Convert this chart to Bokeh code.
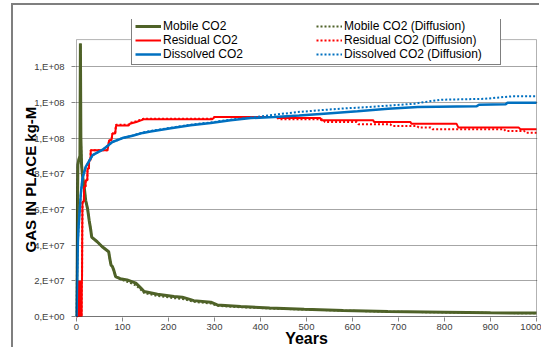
from bokeh.plotting import figure
from bokeh.models import (Range1d, FixedTicker, Legend, LegendItem, BoxAnnotation, Title)
from bokeh.embed import file_html
from bokeh.resources import INLINE

# ---------------- data ----------------
mobile_t = [0, 2, 3, 5, 7.5, 8.5, 9.5, 11, 13, 16.7, 20, 24, 27.5, 31, 33, 45, 56, 70, 72, 75, 78, 81,
            85, 95, 110, 129, 140, 147, 176, 212, 230, 241, 255, 292, 306, 357, 420, 495, 580, 677,
            800, 900, 1000]
mobile_v = [0, 6.0e7, 8.5e7, 8.8e7, 9.0e7, 1.53e8, 1.0e8, 8.5e7, 7.9e7, 7.27e7, 6.5e7, 6.05e7, 5.4e7,
            4.85e7, 4.45e7, 4.19e7, 3.91e7, 3.63e7, 3.3e7, 2.89e7, 2.8e7, 2.6e7, 2.24e7, 2.12e7, 2.05e7,
            1.87e7, 1.59e7, 1.4e7, 1.25e7, 1.12e7, 1.08e7, 1.0e7, 8.9e6, 8.0e6, 6.5e6, 5.6e6, 4.8e6,
            4.1e6, 3.4e6, 2.8e6, 2.4e6, 2.1e6, 1.9e6]

mobile_d_t = [0, 2, 3, 5, 7.5, 8.5, 9.5, 11, 13, 16.7, 20, 24, 27.5, 31, 33, 45, 56, 70, 72, 75, 78, 81,
              85, 95, 110, 129, 140, 147, 176, 212, 230, 241, 255, 292, 306, 357, 420, 495, 580, 677,
              800, 900, 1000]
mobile_d_v = [0, 6.0e7, 8.5e7, 8.8e7, 9.0e7, 1.53e8, 1.0e8, 8.5e7, 7.9e7, 7.27e7, 6.5e7, 6.05e7, 5.4e7,
              4.85e7, 4.45e7, 4.19e7, 3.91e7, 3.63e7, 3.3e7, 2.89e7, 2.8e7, 2.6e7, 2.24e7, 2.1e7, 1.95e7,
              1.75e7, 1.5e7, 1.32e7, 1.15e7, 1.03e7, 0.98e7, 0.92e7, 8.2e6, 7.3e6, 6.0e6, 5.2e6, 4.5e6,
              3.9e6, 3.3e6, 2.7e6, 2.3e6, 2.0e6, 1.8e6]

residual_t = [0, 2, 2.5, 3, 3.5, 4, 4.5, 5, 5.5, 6, 6.5, 7, 7.5, 8, 8.5, 9, 9.5, 10, 10.5, 11, 11.5, 12,
              12.5, 13, 16, 16.5, 19.5, 20, 23.5, 24, 27, 27.5, 30.5, 31, 67.5, 71, 76, 78, 84, 86, 113,
              116, 130, 146, 295, 300, 435, 440, 530, 532, 645, 647, 726, 728, 826, 830, 961, 965, 1000]
residual_v = [0, 0, 2e7, 0, 2e7, 0, 2e7, 0, 2e7, 0, 2e7, 0, 2e7, 0, 2e7, 0, 2e7, 0, 2e7, 0, 2e7, 2e7,
              4.8e7, 6.43e7, 6.43e7, 7.27e7, 7.27e7, 7.64e7, 7.64e7, 8.3e7, 8.3e7, 8.76e7, 8.76e7, 9.32e7,
              9.32e7, 9.88e7, 9.88e7, 1.025e8, 1.025e8, 1.07e8, 1.07e8, 1.08e8, 1.09e8, 1.105e8, 1.105e8,
              1.118e8, 1.118e8, 1.112e8, 1.112e8, 1.10e8, 1.10e8, 1.09e8, 1.09e8, 1.081e8, 1.081e8,
              1.06e8, 1.06e8, 1.05e8, 1.05e8]

residual_d_t = [0, 2, 2.5, 3, 3.5, 4, 4.5, 5, 5.5, 6, 6.5, 7, 7.5, 8, 8.5, 9, 9.5, 10, 10.5, 11, 11.5, 12,
                12.5, 13, 16, 16.5, 19.5, 20, 23.5, 24, 27, 27.5, 30.5, 31, 67.5, 71, 76, 78, 84, 86, 113,
                116, 130, 146, 295, 300, 435, 440, 536, 540, 609, 613, 682, 686, 740, 744, 770, 774, 929,
                933, 973, 977, 1000]
residual_d_v = [0, 0, 2e7, 0, 2e7, 0, 2e7, 0, 2e7, 0, 2e7, 0, 2e7, 0, 2e7, 0, 2e7, 0, 2e7, 0, 2e7, 2e7,
                4.8e7, 6.43e7, 6.43e7, 7.27e7, 7.27e7, 7.64e7, 7.64e7, 8.3e7, 8.3e7, 8.76e7, 8.76e7, 9.32e7,
                9.32e7, 9.88e7, 9.88e7, 1.025e8, 1.025e8, 1.075e8, 1.075e8, 1.085e8, 1.095e8, 1.108e8,
                1.108e8, 1.118e8, 1.118e8, 1.105e8, 1.105e8, 1.09e8, 1.09e8, 1.077e8, 1.077e8, 1.068e8,
                1.068e8, 1.059e8, 1.059e8, 1.05e8, 1.05e8, 1.04e8, 1.04e8, 1.03e8, 1.03e8]

dissolved_t = [0, 1, 2, 3, 4.5, 6, 9.5, 13, 20, 35, 57, 78, 100, 122, 144, 161, 205, 248, 292, 335, 379,
               430, 484, 538, 611, 677, 742, 870, 875, 933, 937, 1000]
dissolved_v = [0, 1.5e7, 3.0e7, 4.2e7, 5.0e7, 5.6e7, 6.9e7, 7.74e7, 8.38e7, 9.04e7, 9.35e7, 9.78e7,
               1.0e8, 1.013e8, 1.029e8, 1.037e8, 1.055e8, 1.072e8, 1.085e8, 1.10e8, 1.112e8, 1.118e8,
               1.127e8, 1.137e8, 1.15e8, 1.165e8, 1.174e8, 1.178e8, 1.187e8, 1.19e8, 1.198e8, 1.198e8]

dissolved_d_t = [0, 1, 2, 3, 4.5, 6, 9.5, 13, 20, 35, 57, 78, 100, 122, 144, 161, 205, 248, 292, 335, 379,
                 430, 481, 524, 575, 633, 684, 735, 756, 793, 887, 946, 1000]
dissolved_d_v = [0, 1.5e7, 3.0e7, 4.2e7, 5.0e7, 5.6e7, 6.9e7, 7.74e7, 8.38e7, 9.04e7, 9.35e7, 9.78e7,
                 1.0e8, 1.015e8, 1.031e8, 1.04e8, 1.058e8, 1.075e8, 1.088e8, 1.103e8, 1.115e8, 1.131e8,
                 1.146e8, 1.155e8, 1.165e8, 1.174e8, 1.183e8, 1.193e8, 1.202e8, 1.215e8, 1.22e8, 1.234e8,
                 1.234e8]

x_ticks = [0, 100, 200, 300, 400, 500, 600, 700, 800, 900, 1000]
x_tick_labels = ["0", "100", "200", "300", "400", "500", "600", "700", "800", "900", "1000"]
y_ticks = [0, 2e7, 4e7, 6e7, 8e7, 1.0e8, 1.2e8, 1.4e8]
y_tick_labels = ["0,E+00", "2,E+07", "4,E+07", "6,E+07", "8,E+07", "1,E+08", "1,E+08", "1,E+08"]

labels = ["Mobile CO2", "Mobile CO2 (Diffusion)", "Residual CO2", "Residual CO2 (Diffusion)",
          "Dissolved CO2", "Dissolved CO2 (Diffusion)"]

# ---------------- figure ----------------
FONT = "Liberation Sans"
PX_PER_YEAR = 0.46
VAL_PER_PX = 5.586e5
PLOT_TOP = 1.552e8

p = figure(width=528, height=344, output_backend="svg", toolbar_location=None,
           x_range=Range1d(-1 / PX_PER_YEAR, 1000 + 1 / PX_PER_YEAR),
           y_range=Range1d(-VAL_PER_PX, 298 * VAL_PER_PX),
           min_border_left=62, min_border_right=4, min_border_top=14, min_border_bottom=31)
# outer chart-area border (left and top edges visible inside the window)
p.styles = {"margin-left": "13px", "margin-top": "5px",
            "box-shadow": "-2px -2px 0px 0px #7F7F7F"}
p.background_fill_color = "white"
p.border_fill_color = "white"
p.outline_line_color = None

p.xgrid.grid_line_color = None
p.ygrid.grid_line_color = "#A6A6A6"
p.ygrid.grid_line_width = 1
p.ygrid.ticker = FixedTicker(ticks=y_ticks)

p.xaxis.ticker = FixedTicker(ticks=x_ticks)
p.xaxis.major_label_overrides = {t: l for t, l in zip(x_ticks, x_tick_labels)}
p.yaxis.ticker = FixedTicker(ticks=y_ticks)
p.yaxis.major_label_overrides = {t: l for t, l in zip(y_ticks, y_tick_labels)}

for ax in (p.xaxis[0], p.yaxis[0]):
    ax.axis_line_color = None
    ax.major_tick_line_color = "#868686"
    ax.major_tick_out = 4
    ax.major_tick_in = 0
    ax.minor_tick_line_color = None
    ax.major_label_text_font = FONT
    ax.major_label_text_font_size = "9.5px"
    ax.major_label_text_color = "#404040"
    ax.axis_label_text_font = FONT
    ax.axis_label_text_font_style = "bold"
    ax.axis_label_text_color = "black"

p.xaxis.major_label_standoff = 2
p.xaxis.axis_label = "Years"
p.xaxis.axis_label_text_font_size = "16px"
p.xaxis.axis_label_standoff = -3
p.yaxis.major_label_standoff = 7

ytitle = Title(text="GAS IN PLACE  kg-M", align="left", offset=65, standoff=-15,
               text_font=FONT, text_font_style="bold", text_font_size="15px", text_color="black")
p.add_layout(ytitle, "left")

OLIVE = "#4F6228"
RED = "#FF0000"
BLUE = "#0070C0"

plot_box = BoxAnnotation(left=0, right=1000, bottom=0, top=PLOT_TOP,
                         fill_alpha=0, line_color="black", line_width=1)
p.add_layout(plot_box)

r_m = p.line(mobile_t, mobile_v, line_color=OLIVE, line_width=3)
r_md = p.line(mobile_d_t, mobile_d_v, line_color=OLIVE, line_width=2, line_dash="2 2")
r_r = p.line(residual_t, residual_v, line_color=RED, line_width=2)
r_rd = p.line(residual_d_t, residual_d_v, line_color=RED, line_width=2, line_dash="2 2")
r_d = p.line(dissolved_t, dissolved_v, line_color=BLUE, line_width=2.5)
r_dd = p.line(dissolved_d_t, dissolved_d_v, line_color=BLUE, line_width=2, line_dash="2 2")

renderers = [r_m, r_md, r_r, r_rd, r_d, r_dd]
order = [0, 2, 4, 1, 3, 5]   # column-major fill: solid series left, diffusion right
items = [LegendItem(label=labels[i], renderers=[renderers[i]]) for i in order]
legend = Legend(items=items, ncols=2, location=(56, 252),
                border_line_color="black", border_line_width=1,
                background_fill_color="white", background_fill_alpha=1,
                padding=3, spacing=0, margin=0,
                label_text_font=FONT, label_text_font_size="12px", label_text_color="black",
                label_height=14, glyph_height=14, glyph_width=26, label_standoff=2,
                label_width=153)
p.add_layout(legend, "center")

open("out.html", "w").write(file_html(p, INLINE))
